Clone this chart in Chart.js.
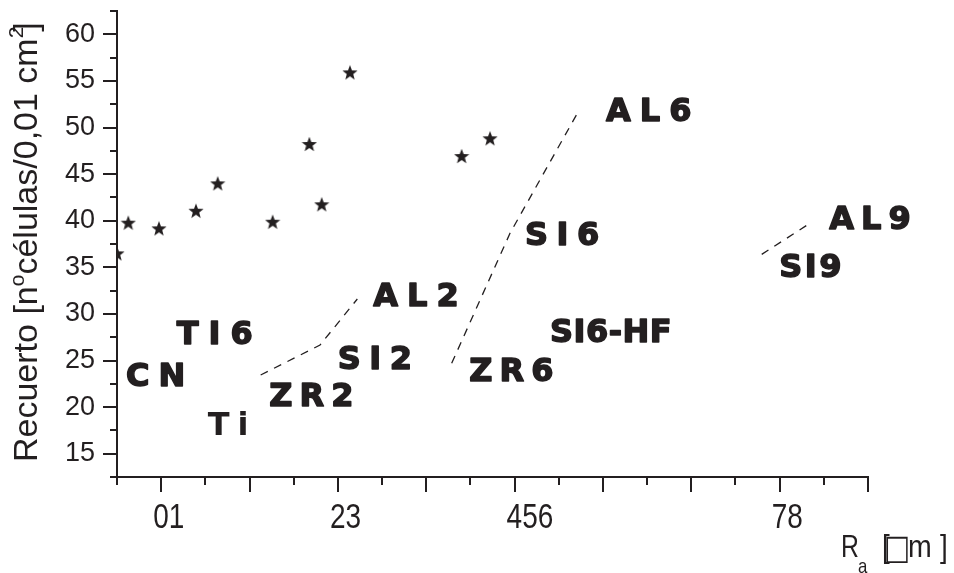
<!DOCTYPE html>
<html>
<head>
<meta charset="utf-8">
<script src="https://cdn.jsdelivr.net/npm/chart.js@4/dist/chart.umd.min.js"></script>
<style>
  html, body { margin: 0; padding: 0; background: #fff; }
  canvas { display: block; }
</style>
</head>
<body>
<canvas id="myChart" width="954" height="573"></canvas>
<script>
'use strict';

// measured points (stars)
var starX = [0.5, 0.628, 0.975, 1.394, 1.640, 2.262, 2.677, 2.817, 3.137, 4.401, 4.722];
var starY = [36.5, 39.79, 39.18, 41.07, 44.01, 39.89, 48.23, 41.76, 55.92, 46.94, 48.84];

// dashed trend lines
var line2X = [2.126, 2.798, 3.220];
var line2Y = [23.44, 26.66, 31.60];
var line6X = [4.288, 4.948, 5.710];
var line6Y = [24.70, 38.65, 51.52];
var line9X = [7.797, 8.325];
var line9Y = [36.39, 39.61];

// sample names, anchored at data coordinates (left / baseline)
var labelText = ['AL6', 'SI6', 'AL9', 'SI9', 'AL2', 'TI6', 'SI6-HF', 'SI2', 'CN', 'ZR6', 'ZR2', 'Ti'];
var labelX = [6.035, 5.118, 8.562, 7.996, 3.401, 1.176, 5.401, 2.998, 0.602, 4.488, 2.224, 1.527];
var labelY = [50.62, 37.32, 39.00, 33.82, 30.77, 26.66, 26.88, 23.98, 22.19, 22.73, 19.98, 16.90];

// axis ticks
var xTickValues = [1, 3, 5, 8];
var xTickText = ['01', '23', '456', '78'];
var xMajor = [1, 2, 3, 4, 5, 6, 7, 8, 9];
var xMinor = [0.5, 1.5, 2.5, 3.5, 4.5, 5.5, 6.5, 7.5, 8.5];
var yTickValues = [15, 20, 25, 30, 35, 40, 45, 50, 55, 60];
var yMinor = [12.5, 17.5, 22.5, 27.5, 32.5, 37.5, 42.5, 47.5, 52.5, 57.5, 62.5];

var ink = '#231f20';

function toPoints(xs, ys) {
  var pts = [];
  for (var i = 0; i < xs.length; i++) {
    pts.push({ x: xs[i], y: ys[i] });
  }
  return pts;
}

// filled five point star used as point style
function makeStar(size) {
  var c = document.createElement('canvas');
  c.width = size;
  c.height = size;
  var g = c.getContext('2d');
  var R = size / 2, r = R * 0.42;
  var cx = size / 2, cy = size / 2 + R * 0.09;
  g.fillStyle = ink;
  g.beginPath();
  for (var i = 0; i < 10; i++) {
    var rad = i % 2 ? r : R;
    var a = -Math.PI / 2 + i * Math.PI / 5;
    g.lineTo(cx + rad * Math.cos(a), cy + rad * Math.sin(a));
  }
  g.closePath();
  g.fill();
  return c;
}

// narrow text (no condensed font installed, so squeeze horizontally)
function narrowText(c, text, x, y, sx, sy) {
  c.save();
  c.translate(x, y);
  c.scale(sx, sy || 1);
  c.fillText(text, 0, 0);
  c.restore();
}

// major/minor tick marks on both axes + x tick labels
var tickMarks = {
  id: 'tickMarks',
  afterDraw: function(chart) {
    var ctx = chart.ctx;
    var xs = chart.scales.x, ys = chart.scales.y;
    var bottom = chart.chartArea.bottom, left = chart.chartArea.left;
    ctx.save();
    ctx.strokeStyle = ink;
    ctx.lineWidth = 2;
    ctx.beginPath();
    function xt(v, len) {
      var p = Math.round(xs.getPixelForValue(v));
      ctx.moveTo(p, bottom);
      ctx.lineTo(p, bottom + len);
    }
    function yt(v, len) {
      var p = Math.round(ys.getPixelForValue(v));
      ctx.moveTo(left, p);
      ctx.lineTo(left - len, p);
    }
    xMajor.forEach(function(v) { xt(v, 15); });
    xMinor.forEach(function(v) { xt(v, 8); });
    yTickValues.forEach(function(v) { yt(v, 14); });
    yMinor.forEach(function(v) { yt(v, 7); });
    ctx.stroke();

    // x tick labels, condensed digits, starting just left of the tick
    ctx.fillStyle = ink;
    ctx.font = '35px "Liberation Sans"';
    ctx.textBaseline = 'alphabetic';
    ctx.textAlign = 'left';
    for (var i = 0; i < xTickValues.length; i++) {
      var px = xs.getPixelForValue(xTickValues[i]) - 8;
      narrowText(ctx, xTickText[i], px, bottom + 51, 0.8);
    }
    ctx.restore();
  }
};

// bold sample names
var sampleLabels = {
  id: 'sampleLabels',
  afterDatasetsDraw: function(chart, args, opts) {
    var ctx = chart.ctx;
    ctx.save();
    ctx.fillStyle = ink;
    ctx.strokeStyle = ink;
    ctx.lineWidth = 1.5;
    ctx.lineJoin = 'round';
    ctx.font = 'bold 32px "DejaVu Sans"';
    ctx.textBaseline = 'alphabetic';
    ctx.textAlign = 'left';
    for (var i = 0; i < labelText.length; i++) {
      ctx.letterSpacing = opts.gap[i] + 'px';
      var px = chart.scales.x.getPixelForValue(labelX[i]);
      var py = chart.scales.y.getPixelForValue(labelY[i]) - 1;
      ctx.fillText(labelText[i], px, py);
      // no extra weight on lowercase, keeps the dot of the i apart
      if (labelText[i] === labelText[i].toUpperCase()) {
        ctx.strokeText(labelText[i], px, py);
      }
    }
    ctx.restore();
  }
};

// axis titles with super/subscripts
var axisTitles = {
  id: 'axisTitles',
  afterDraw: function(chart) {
    var ctx = chart.ctx;
    ctx.save();
    ctx.fillStyle = ink;
    ctx.textBaseline = 'alphabetic';
    ctx.textAlign = 'left';

    // y title, rotated
    ctx.translate(37, 462);
    ctx.rotate(-Math.PI / 2);
    var x = 0;
    function part(text, size, dy) {
      ctx.font = size + 'px "Liberation Sans"';
      ctx.fillText(text, x, dy);
      x += ctx.measureText(text).width;
    }
    part('Recuerto [n', 34, 0);
    part('o', 21, -13);
    part('células/0,01 cm', 34, 0);
    part('2', 21, -14);
    x -= 5;
    part(']', 34, 0);
    ctx.restore();

    // x title
    ctx.save();
    ctx.fillStyle = ink;
    ctx.textBaseline = 'alphabetic';
    var rx = chart.chartArea.right - 27;
    ctx.font = '31px "Liberation Sans"';
    narrowText(ctx, 'R', rx, 557, 0.8);
    ctx.font = '21px "Liberation Sans"';
    narrowText(ctx, 'a', rx + 17, 573, 0.8);
    ctx.font = '31px "Liberation Sans"';
    narrowText(ctx, '[', rx + 41, 557, 0.9);
    ctx.font = '29px "DejaVu Sans"';
    narrowText(ctx, '\u25A1', rx + 43, 559, 0.95, 1.2);
    ctx.font = '31px "Liberation Sans"';
    narrowText(ctx, 'm', rx + 67, 557, 0.92);
    narrowText(ctx, ']', rx + 99, 557, 0.9);
    ctx.restore();
  }
};

var ctx = document.getElementById('myChart').getContext('2d');

var chart = new Chart(ctx, {
  type: 'scatter',
  plugins: [tickMarks, sampleLabels, axisTitles],
  data: {
    datasets: [{
      label: 'Recuento',
      data: toPoints(starX, starY),
      pointStyle: makeStar(16),
      pointRadius: 8,
      clip: 0
    },
    {
      data: toPoints(line2X, line2Y),
      showLine: true,
      borderColor: ink,
      borderWidth: 1.3,
      borderDash: [8, 7],
      pointRadius: 0
    },
    {
      data: toPoints(line6X, line6Y),
      showLine: true,
      borderColor: ink,
      borderWidth: 1.3,
      borderDash: [8, 7],
      pointRadius: 0
    },
    {
      data: toPoints(line9X, line9Y),
      showLine: true,
      borderColor: ink,
      borderWidth: 1.3,
      borderDash: [8, 7],
      pointRadius: 0
    }]
  },
  options: {
    responsive: false,
    animation: false,
    devicePixelRatio: 1,
    layout: { padding: { top: 11, right: 86, left: 0, bottom: 0 } },
    plugins: {
      legend: { display: false },
      tooltip: { enabled: false },
      sampleLabels: { gap: [9, 8.5, 7, 2.5, 9, 10, 0.5, 8.5, 9, 7, 7, 8] }
    },
    scales: {
      x: {
        type: 'linear',
        min: 0.5,
        max: 9,
        grid: { display: false, drawTicks: false },
        border: { display: true, color: ink, width: 2 },
        afterFit: function(s) {
          s.height = 96;
          s.paddingLeft = 0;
          s.paddingRight = 0;
        },
        afterBuildTicks: function(s) {
          s.ticks = xTickValues.map(function(v) { return { value: v }; });
        },
        // labels are drawn condensed by the tickMarks plugin
        ticks: { display: false }
      },
      y: {
        type: 'linear',
        min: 12.5,
        max: 62.5,
        grid: { display: false, drawTicks: false },
        border: { display: true, color: ink, width: 2 },
        afterFit: function(s) {
          s.width = 117;
          s.paddingTop = 0;
          s.paddingBottom = 0;
        },
        afterBuildTicks: function(s) {
          s.ticks = yTickValues.map(function(v) { return { value: v }; });
        },
        ticks: {
          autoSkip: false,
          padding: 22,
          color: ink,
          font: { family: '"Liberation Sans"', size: 27 },
          callback: function(v) { return String(v); }
        }
      }
    }
  }
});
</script>
</body>
</html>
